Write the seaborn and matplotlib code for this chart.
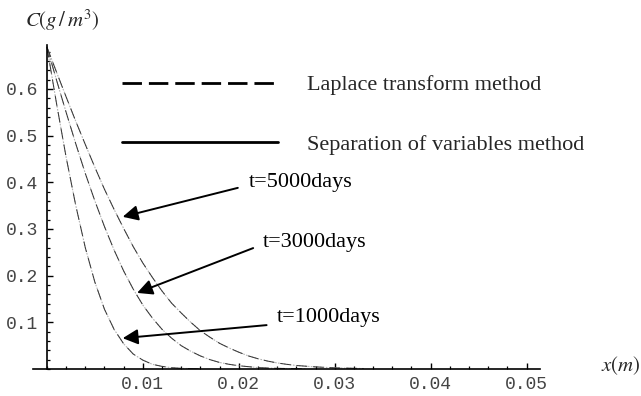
import matplotlib
matplotlib.use("Agg")
import matplotlib.pyplot as plt
import seaborn as sns
import pandas as pd
from matplotlib.lines import Line2D
from matplotlib.ticker import MultipleLocator, FixedLocator

# ---- data ----
x_1000 = [0.000, 0.001, 0.002, 0.003, 0.004, 0.005, 0.006, 0.007, 0.008, 0.009,
          0.010, 0.011, 0.012, 0.013, 0.014, 0.016]
laplace_1000 = [0.690, 0.569, 0.454, 0.351, 0.260, 0.186, 0.128, 0.085, 0.054, 0.032,
                0.019, 0.010, 0.0056, 0.0028, 0.0014, 0.0003]
separation_1000 = [0.690, 0.569, 0.454, 0.351, 0.260, 0.186, 0.128, 0.085, 0.054, 0.032,
                   0.019, 0.010, 0.0056, 0.0028, 0.0014, 0.0003]

x_3000 = [0.000, 0.001, 0.002, 0.003, 0.004, 0.005, 0.006, 0.007, 0.008, 0.009,
          0.010, 0.011, 0.012, 0.013, 0.014, 0.015, 0.016, 0.017, 0.018, 0.019,
          0.020, 0.022, 0.024, 0.027]
laplace_3000 = [0.690, 0.619, 0.550, 0.483, 0.419, 0.360, 0.305, 0.255, 0.210, 0.171,
                0.137, 0.109, 0.085, 0.066, 0.050, 0.038, 0.028, 0.020, 0.014, 0.010,
                0.007, 0.003, 0.0014, 0.0004]
separation_3000 = [0.690, 0.619, 0.550, 0.483, 0.419, 0.360, 0.305, 0.255, 0.210, 0.171,
                   0.137, 0.109, 0.085, 0.066, 0.050, 0.038, 0.028, 0.020, 0.014, 0.010,
                   0.007, 0.003, 0.0014, 0.0004]

x_5000 = [0.000, 0.001, 0.002, 0.003, 0.004, 0.005, 0.006, 0.007, 0.008, 0.009,
          0.010, 0.011, 0.012, 0.013, 0.014, 0.015, 0.016, 0.017, 0.018, 0.019,
          0.020, 0.021, 0.022, 0.023, 0.024, 0.025, 0.026, 0.028, 0.030, 0.033]
laplace_5000 = [0.690, 0.636, 0.583, 0.531, 0.481, 0.432, 0.385, 0.342, 0.301, 0.262,
                0.227, 0.196, 0.167, 0.141, 0.120, 0.100, 0.082, 0.068, 0.055, 0.045,
                0.036, 0.028, 0.022, 0.017, 0.013, 0.010, 0.0075, 0.0045, 0.0025, 0.001]
separation_5000 = [0.690, 0.636, 0.583, 0.531, 0.481, 0.432, 0.385, 0.342, 0.301, 0.262,
                   0.227, 0.196, 0.167, 0.141, 0.120, 0.100, 0.082, 0.068, 0.055, 0.045,
                   0.036, 0.028, 0.022, 0.017, 0.013, 0.010, 0.0075, 0.0045, 0.0025, 0.001]

times = ["t=1000days", "t=3000days", "t=5000days"]
xticks = [0.01, 0.02, 0.03, 0.04, 0.05]
xtick_labels = ["0.01", "0.02", "0.03", "0.04", "0.05"]
yticks = [0.1, 0.2, 0.3, 0.4, 0.5, 0.6]
ytick_labels = ["0.1", "0.2", "0.3", "0.4", "0.5", "0.6"]
legend_labels = ["Laplace transform method", "Separation of variables method"]

# arrow tips (on curves) and label anchors
arrow_tips = {"t=5000days": (0.0079, 0.326), "t=3000days": (0.0094, 0.163), "t=1000days": (0.0079, 0.066)}
arrow_tails = {"t=5000days": (0.0199, 0.388), "t=3000days": (0.0215, 0.259), "t=1000days": (0.0229, 0.094)}
label_pos = {"t=5000days": (0.0211, 0.400), "t=3000days": (0.0225, 0.270), "t=1000days": (0.0240, 0.111)}

# ---- figure ----
sns.set_theme(style="ticks")
plt.rcParams["mathtext.fontset"] = "stix"

fig = plt.figure(figsize=(6.41, 3.96), dpi=100)
ax = fig.add_axes([33/641, 27/396, 507/641, 324/396])
ax.set_facecolor("white")
fig.patch.set_facecolor("white")

series = [
    (x_1000, laplace_1000, separation_1000),
    (x_3000, laplace_3000, separation_3000),
    (x_5000, laplace_5000, separation_5000),
]
for xs, lap, sep in series:
    df_sep = pd.DataFrame({"x": xs, "C": sep})
    df_lap = pd.DataFrame({"x": xs, "C": lap})
    sns.lineplot(data=df_sep, x="x", y="C", ax=ax, color="#b4b4b4", lw=0.8,
                 linestyle=(0, (1.5, 1.2)))
    sns.lineplot(data=df_lap, x="x", y="C", ax=ax, color="#333333", lw=0.7,
                 linestyle=(0, (11, 6)))

ax.set_xlim(-0.00145, 0.0514)
ax.set_ylim(0, 0.694)
ax.set_xlabel("")
ax.set_ylabel("")

ax.spines["left"].set_position(("data", 0))
ax.spines["right"].set_visible(False)
ax.spines["top"].set_visible(False)
for s in ("left", "bottom"):
    ax.spines[s].set_linewidth(1.2)
    ax.spines[s].set_color("black")

ax.xaxis.set_major_locator(FixedLocator(xticks))
ax.set_xticklabels(xtick_labels)
ax.yaxis.set_major_locator(FixedLocator(yticks))
ax.set_yticklabels(ytick_labels)
ax.xaxis.set_minor_locator(MultipleLocator(0.002))
ax.yaxis.set_minor_locator(MultipleLocator(0.02))
ax.tick_params(axis="both", which="major", direction="in", length=4.5, width=1.0,
               color="black", labelsize=13, labelcolor="#444444")
ax.tick_params(axis="both", which="minor", direction="in", length=2.5, width=0.9,
               color="black")
ax.tick_params(axis="x", which="major", pad=5)
ax.tick_params(axis="y", which="major", pad=6)
for lab in ax.get_xticklabels() + ax.get_yticklabels():
    lab.set_family("Liberation Mono")

# arrows and labels
for t in times:
    ax.annotate("", xy=arrow_tips[t], xytext=arrow_tails[t],
                arrowprops=dict(arrowstyle="-|>", color="black", lw=1.4,
                                mutation_scale=23, shrinkA=0, shrinkB=0))
    ax.text(*label_pos[t], t, family="Liberation Serif", fontsize=16,
            ha="left", va="center", color="black")

# legend
handles = [Line2D([], [], color="black", lw=2.0, linestyle=(0, (7, 2.5))),
           Line2D([], [], color="black", lw=2.0, linestyle="-")]
ax.legend(handles, legend_labels, loc="upper left", bbox_to_anchor=(0.1755, 0.908),
          frameon=False, handlelength=7.0, handletextpad=1.33, labelspacing=1.75,
          borderpad=0, borderaxespad=0,
          prop={"family": "Liberation Serif", "size": 16})

# axis titles
fig.text(62/641, 1 - 20/396, r"$C(g\,/\,m^3)$", ha="center", va="center", fontsize=15)
fig.text(621/641, 1 - 366/396, r"$x(m)$", ha="center", va="center", fontsize=15)

fig.savefig("out.png", dpi=100)
